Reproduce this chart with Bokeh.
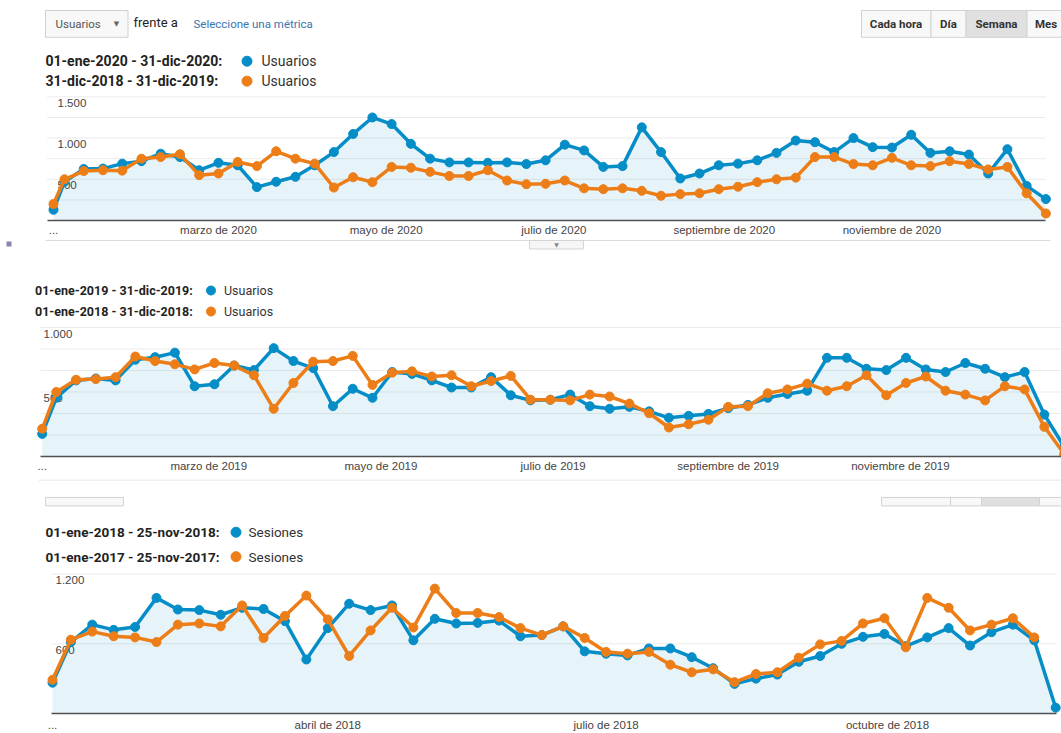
import pandas as pd
from bokeh.plotting import figure
from bokeh.layouts import column
from bokeh.models import Range1d, FixedTicker
from bokeh.core.properties import value
from bokeh.embed import file_html
from bokeh.resources import INLINE

BLUE = "#058dc7"
ORANGE = "#ed7e17"
DAY = 86400000
W = 1061

# ---------------- data ----------------
# Panel 1 : Usuarios per week, 2020 vs 2019
p1_range = ("2020-01-01", "2020-12-31")
p1_blue = [130, 470, 625, 630, 690, 720, 810, 770, 610, 700,
           670, 405, 470, 530, 670, 830, 1050, 1250, 1170, 930,
           750, 705, 705, 700, 705, 685, 730, 920, 850, 650,
           660, 1130, 830, 510, 570, 670, 690, 730, 820, 970,
           950, 830, 1000, 890, 885, 1040, 820, 840, 800, 570,
           865, 420, 260]
p1_orange = [200, 500, 600, 610, 605, 750, 770, 805, 550, 570,
             710, 660, 840, 750, 690, 400, 525, 465, 650, 640,
             590, 540, 540, 610, 485, 440, 445, 485, 390, 380,
             390, 360, 300, 320, 330, 380, 410, 465, 500, 520,
             770, 770, 685, 670, 760, 670, 660, 720, 685, 620,
             650, 330, 85]
p1_legend = ["01-ene-2020 - 31-dic-2020:", "31-dic-2018 - 31-dic-2019:"]
p1_metric = "Usuarios"
p1_tick_dates = ["2020-01-01", "2020-03-01", "2020-05-01", "2020-07-01", "2020-09-01", "2020-11-01"]
p1_tick_labels = ["...", "marzo de 2020", "mayo de 2020", "julio de 2020",
                  "septiembre de 2020", "noviembre de 2020"]
p1_grid = [250, 500, 750, 1000, 1250, 1500]
p1_ylab_vals = [500, 1000, 1500]
p1_ylab_text = ["500", "1.000", "1.500"]

# Panel 2 : Usuarios per week, 2019 vs 2018
p2_range = ("2019-01-01", "2019-12-31")
p2_blue = [175, 455, 590, 605, 590, 750, 770, 805, 545, 560,
           705, 670, 840, 740, 685, 390, 525, 455, 655, 640,
           590, 535, 535, 615, 475, 435, 440, 480, 390, 370,
           385, 350, 300, 315, 330, 375, 400, 455, 485, 510,
           765, 765, 680, 670, 765, 675, 655, 725, 680, 615,
           655, 325, 75]
p2_orange = [215, 500, 595, 600, 615, 775, 740, 715, 675, 725,
             705, 630, 370, 570, 735, 740, 780, 555, 650, 660,
             620, 630, 545, 585, 625, 440, 440, 435, 480, 465,
             410, 335, 225, 250, 285, 385, 390, 490, 520, 565,
             510, 545, 630, 475, 570, 620, 510, 480, 435, 545,
             520, 230, 20]
p2_legend = ["01-ene-2019 - 31-dic-2019:", "01-ene-2018 - 31-dic-2018:"]
p2_metric = "Usuarios"
p2_tick_dates = ["2019-01-01", "2019-03-01", "2019-05-01", "2019-07-01", "2019-09-01", "2019-11-01"]
p2_tick_labels = ["...", "marzo de 2019", "mayo de 2019", "julio de 2019",
                  "septiembre de 2019", "noviembre de 2019"]
p2_grid = [1000 / 6 * k for k in range(1, 7)]
p2_ylab_vals = [500, 1000]
p2_ylab_text = ["500", "1.000"]

# Panel 3 : Sesiones per week, 2018 vs 2017
p3_range = ("2018-01-01", "2018-11-25")
p3_blue = [265, 615, 765, 720, 745, 995, 895, 890, 850, 910,
           900, 795, 465, 735, 945, 890, 930, 630, 815, 775,
           780, 800, 665, 675, 750, 535, 515, 500, 560, 560,
           485, 390, 255, 300, 335, 445, 495, 600, 660, 685,
           580, 655, 735, 585, 700, 765, 630, 50]
p3_orange = [290, 635, 705, 665, 655, 615, 765, 775, 750, 930,
             650, 840, 1015, 810, 495, 715, 910, 740, 1075, 865,
             865, 830, 735, 675, 750, 650, 530, 515, 530, 420,
             355, 380, 270, 340, 355, 480, 595, 625, 775, 820,
             570, 995, 910, 715, 765, 820, 655]
p3_legend = ["01-ene-2018 - 25-nov-2018:", "01-ene-2017 - 25-nov-2017:"]
p3_metric = "Sesiones"
p3_tick_dates = ["2018-01-01", "2018-04-01", "2018-07-01", "2018-10-01"]
p3_tick_labels = ["...", "abril de 2018", "julio de 2018", "octubre de 2018"]
p3_grid = [600, 1200]
p3_ylab_vals = [600, 1200]
p3_ylab_text = ["600", "1.200"]

# header controls
metric_selector = "Usuarios"
versus_text = "frente a"
pick_metric_text = "Seleccione una métrica"
period_buttons = ["Cada hora", "Día", "Semana", "Mes"]


# ---------------- helpers ----------------
def ms(d):
    return int(pd.Timestamp(d).value // 10**6)


def week_starts(start, end):
    s = pd.Timestamp(start)
    sundays = pd.date_range(s + pd.Timedelta(days=1), end, freq="W-SUN")
    return [s] + list(sundays)


ROBOTO = value("Roboto")
ARIAL = value("Liberation Sans")


def make_panel(h, ref_top, base_ref, ppu, date0, px0, ppd, chart_l, chart_r,
               ticks, tick_labels, standoff):
    d0 = ms(date0)

    def X(px):
        return d0 + (px - px0) / ppd * DAY

    def Y(py):
        return (base_ref - py) / ppu

    f = figure(width=W, height=h, x_axis_type="datetime", y_axis_location=None,
               x_range=Range1d(X(0), X(W)), y_range=Range1d(0, Y(ref_top)),
               min_border_left=0, min_border_right=0, min_border_top=0,
               min_border_bottom=h - (base_ref - ref_top),
               toolbar_location=None, output_backend="svg",
               outline_line_color=None, background_fill_color="white",
               border_fill_color="white")
    f.xgrid.visible = False
    f.ygrid.visible = False
    ax = f.xaxis[0]
    tv = [ms(t) for t in ticks]
    ax.ticker = FixedTicker(ticks=tv)
    ax.major_label_overrides = {t: lab for t, lab in zip(tv, tick_labels)}
    ax.bounds = (X(chart_l), X(chart_r))
    ax.axis_line_color = "#505050"
    ax.axis_line_width = 1.6
    ax.major_tick_line_color = None
    ax.minor_tick_line_color = None
    ax.major_tick_out = 0
    ax.major_tick_in = 0
    ax.major_label_standoff = standoff
    ax.major_label_text_font = "Liberation Sans"
    ax.major_label_text_font_size = "11.5px"
    ax.major_label_text_color = "#444444"
    return f, X, Y


def draw_series(f, X, dates, blue, orange, grid_vals, ylab_vals, ylab_text,
                ylab_px, chart_l, chart_r):
    xb = [ms(d) for d in dates]
    xo = xb[:len(orange)]
    n = len(grid_vals)
    f.segment(x0=[X(chart_l)] * n, x1=[X(chart_r)] * n, y0=grid_vals, y1=grid_vals,
              line_color="#ebebeb", line_width=1)
    f.varea(x=xb, y1=[0] * len(blue), y2=blue, fill_color=BLUE, fill_alpha=0.1)
    f.text(x=[X(ylab_px)] * len(ylab_vals), y=ylab_vals, text=ylab_text,
           text_font=ARIAL, text_font_size="11.5px", text_color="#444444",
           text_baseline="top", text_align="left", y_offset=2)
    f.line(xb, blue, line_color=BLUE, line_width=3.5)
    f.scatter(xb, blue, size=9, fill_color=BLUE, line_color=BLUE)
    f.line(xo, orange, line_color=ORANGE, line_width=3.5)
    f.scatter(xo, orange, size=9, fill_color=ORANGE, line_color=ORANGE)


def draw_legend(f, X, Y, labels, metric, x_text, x_dot, x_metric, ys, size, dot):
    yy = [Y(y) for y in ys]
    f.text(x=[X(x_text)] * 2, y=yy, text=labels, text_font=ROBOTO,
           text_font_size=size, text_font_style="bold", text_color="#222222",
           text_baseline="middle", text_align="left")
    f.scatter(x=[X(x_dot)] * 2, y=yy, size=dot, fill_color=[BLUE, ORANGE],
              line_color=[BLUE, ORANGE])
    f.text(x=[X(x_metric)] * 2, y=yy, text=[metric] * 2, text_font=ROBOTO,
           text_font_size=size, text_color="#333333",
           text_baseline="middle", text_align="left")


def button_bar(f, X, Y, edges, top, bottom, selected, labels):
    fills = ["#e0e0e0" if i == selected else "#f8f8f8" for i in range(len(edges) - 1)]
    f.quad(left=[X(e) for e in edges[:-1]], right=[X(e) for e in edges[1:]],
           top=Y(top), bottom=Y(bottom), fill_color=fills, line_color="#d2d2d2",
           line_width=1)
    if labels:
        cx = [X((a + b) / 2) for a, b in zip(edges[:-1], edges[1:])]
        f.text(x=cx, y=[Y((top + bottom) / 2)] * len(cx), text=labels,
               text_font=ROBOTO, text_font_size="11.5px", text_font_style="bold",
               text_color="#333333", text_baseline="middle", text_align="center")


# ---------------- panel 1 ----------------
f1, X1, Y1 = make_panel(238, 0, 221, 124.2 / 1500, "2020-01-01", 53, 2.749, 46.5, 1045,
                        p1_tick_dates, p1_tick_labels, 3)
# controls row
f1.quad(left=X1(45), right=X1(127.5), top=Y1(10), bottom=Y1(37),
        fill_color="#f8f8f8", line_color="#d0d0d0")
f1.text(x=[X1(55)], y=[Y1(24)], text=[metric_selector], text_font=ROBOTO,
        text_font_size="11.5px", text_color="#555555", text_baseline="middle")
f1.text(x=[X1(116)], y=[Y1(23.5)], text=["▼"], text_font=value("DejaVu Sans"),
        text_font_size="7px", text_color="#666666", text_baseline="middle",
        text_align="center")
f1.text(x=[X1(133)], y=[Y1(22.5)], text=[versus_text], text_font=ROBOTO,
        text_font_size="13px", text_color="#222222", text_baseline="middle")
f1.text(x=[X1(193)], y=[Y1(24)], text=[pick_metric_text], text_font=ROBOTO,
        text_font_size="11.5px", text_color="#3a75b0", text_baseline="middle")
button_bar(f1, X1, Y1, [861, 930.5, 965.5, 1026.5, 1075], 10, 37, 2, None)
f1.text(x=[X1(895.5), X1(948), X1(996), X1(1034.5)], y=[Y1(24)] * 4, text=period_buttons,
        text_font=ROBOTO, text_font_size="11.5px", text_font_style="bold",
        text_color="#333333", text_baseline="middle",
        text_align=["center", "center", "center", "left"])
draw_legend(f1, X1, Y1, p1_legend, p1_metric, 45, 246.5, 261, [61, 81], "14px", 10)
draw_series(f1, X1, week_starts(*p1_range), p1_blue, p1_orange, p1_grid,
            p1_ylab_vals, p1_ylab_text, 57, 46.5, 1045)

# ---------------- panel 2 ----------------
f2, X2, Y2 = make_panel(241, 238, 456, 0.129, "2019-01-01", 41.7, 2.823, 40, 1061,
                        p2_tick_dates, p2_tick_labels, 3)
# bottom edge of panel 1 box + collapse tab
f2.segment(x0=[X2(45)], x1=[X2(1050)], y0=[Y2(240)], y1=[Y2(240)],
           line_color="#dcdcdc", line_width=1)
f2.quad(left=X2(529), right=X2(583), top=Y2(240), bottom=Y2(248.5),
        fill_color="#f6f6f6", line_color="#d5d5d5")
f2.text(x=[X2(556)], y=[Y2(244)], text=["▼"], text_font=value("DejaVu Sans"),
        text_font_size="6px", text_color="#888888", text_baseline="middle",
        text_align="center")
f2.scatter(x=[X2(8.5)], y=[Y2(243.5)], marker="square", size=5,
           fill_color="#8585b0", line_color=None)
draw_legend(f2, X2, Y2, p2_legend, p2_metric, 34.5, 210.5, 223.5, [290, 311], "12.5px", 9)
draw_series(f2, X2, week_starts(*p2_range), p2_blue, p2_orange, p2_grid,
            p2_ylab_vals, p2_ylab_text, 43, 40, 1061)

# ---------------- panel 3 ----------------
f3, X3, Y3 = make_panel(254, 479, 714, 70 / 600, "2018-01-01", 52, 3.0585, 51, 1055.5,
                        p3_tick_dates, p3_tick_labels, 5)
# bottom edge of panel 2 box and bottoms of the cut-off controls
f3.segment(x0=[X3(38)], x1=[X3(1061)], y0=[Y3(479.5)], y1=[Y3(479.5)],
           line_color="#dcdcdc", line_width=1)
button_bar(f3, X3, Y3, [45, 123], 497, 505.5, -1, None)
button_bar(f3, X3, Y3, [881, 950, 981, 1039, 1075], 497, 505.5, 2, None)
draw_legend(f3, X3, Y3, p3_legend, p3_metric, 45, 235.5, 248, [532, 556.5], "13.5px", 10)
draw_series(f3, X3, week_starts(*p3_range), p3_blue, p3_orange, p3_grid,
            p3_ylab_vals, p3_ylab_text, 55, 51, 1055.5)

layout = column(f1, f2, f3, spacing=0)
open("out.html", "w").write(file_html(layout, INLINE))
